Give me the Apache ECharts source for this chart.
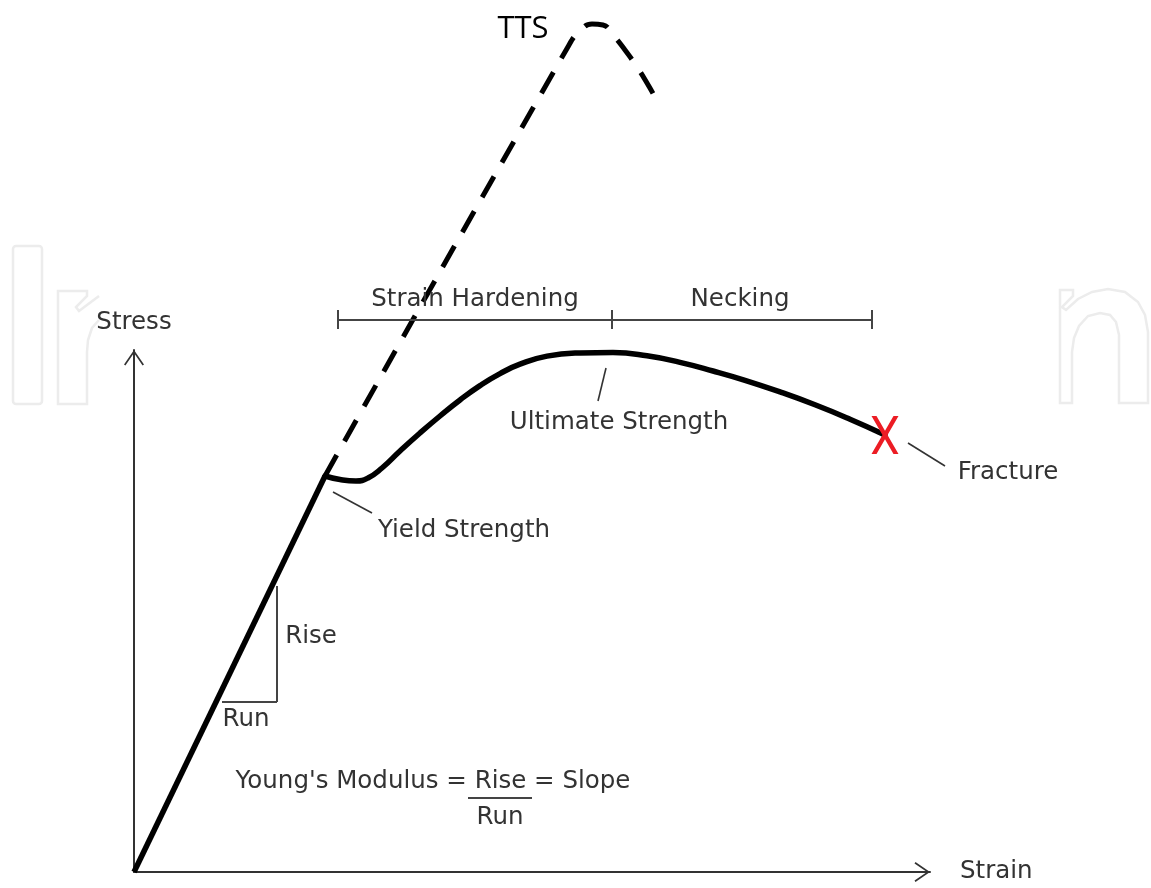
<!DOCTYPE html>
<html><head><meta charset="utf-8">
<script src="https://cdn.jsdelivr.net/npm/echarts@6/dist/echarts.min.js"></script>
<style>html,body{margin:0;padding:0;background:#fff}#c{width:1151px;height:888px}</style>
</head><body><div id="c"></div>
<script>
// ---- data (strain on x, stress on y, arbitrary units) ----
const elasticStrain = [0, 19.1];
const elasticStress = [0, 39.6];
const plasticStrain = [19.1, 20.6, 22.2, 23.4, 24.8, 26.6, 28.6, 30.6, 32.6, 34.6, 36.6, 38.6, 41.3, 44.6, 47.9, 51.3, 54.6, 57.9, 61.1, 64.6, 68.1, 71.6, 75.1];
const plasticStress = [39.6, 39.25, 39.1, 39.4, 40.4, 42.1, 43.9, 45.6, 47.2, 48.64, 49.84, 50.78, 51.59, 51.9, 51.94, 51.62, 50.96, 50.1, 49.17, 48.01, 46.72, 45.28, 43.71];
const ttsStrain = [19.1, 43.5, 44.6, 45.8, 46.9, 47.9, 49.1, 50.3, 51.3, 52.1];
const ttsStress = [39.6, 82.7, 84.1, 84.8, 84.7, 83.7, 82.2, 80.5, 78.9, 77.5];
const fractureStrain = [75.1];
const fractureStress = [43.7];

const labelText = ['Strain Hardening', 'Necking', 'Ultimate Strength', 'Yield Strength', 'Fracture', 'Rise', 'Run', "Young's Modulus = Rise = Slope", 'Run'];
const labelStrain = [34.1, 60.6, 48.5, 33.0, 87.4, 17.7, 11.2, 29.9, 36.6];
const labelStress = [57.2, 57.2, 44.95, 34.1, 39.9, 23.5, 15.2, 9.0, 5.4];
const ttsLabel = ['TTS'];
const ttsLabelStrain = [38.9];
const ttsLabelStress = [84.3];

// leader lines: [x1, y1, x2, y2]
const leaderLines = [[47.2, 50.4, 46.4, 47.1], [19.9, 38.0, 23.8, 35.9], [77.4, 42.9, 81.1, 40.6]];
// rise/run triangle and fraction bar
const triangleLines = [[14.3, 28.6, 14.3, 17.0], [8.8, 17.0, 14.3, 17.0], [33.4, 7.4, 39.8, 7.4]];
// region bracket
const bracketStrain = [20.4, 47.8, 73.8];
const bracketStress = 55.2;
const bracketTick = [54.3, 56.2];

const zip = (a, b) => a.map((v, i) => [v, b[i]]);
const FONT = 'DejaVu Sans';
const arrow = 'path://M10 0 L20 14.5 L18.6 15.5 L10 3 L1.4 15.5 L0 14.5 Z';

const segs = [];
const seg = (l, w, c) => ({coords: [[l[0], l[1]], [l[2], l[3]]], lineStyle: {width: w, color: c, type: 'solid', opacity: 1}});
leaderLines.forEach(l => segs.push(seg(l, 1.6, '#333')));
triangleLines.forEach(l => segs.push(seg(l, 2, '#444')));
segs.push(seg([bracketStrain[0], bracketStress, bracketStrain[2], bracketStress], 2, '#444'));
bracketStrain.forEach(x => segs.push(seg([x, bracketTick[0], x, bracketTick[1]], 2, '#444')));

// faint background watermark outlines (decoration only)
const wmStyle = {fill: null, stroke: '#ececec', lineWidth: 2.5};
const chart = echarts.init(document.getElementById('c'));
chart.setOption({
  animation: false,
  backgroundColor: '#fff',
  graphic: [
    {type: 'rect', silent: true, z: -10, shape: {x: 13, y: 246, width: 29, height: 158, r: 3}, style: wmStyle},
    {type: 'polyline', silent: true, z: -10, shape: {points: [[99,296],[79,311],[76,307],[87,296],[87,291],[58,291],[58,404],[87,404],[87,352],[88,340],[92,328],[99,320]]}, style: wmStyle},
    {type: 'polygon', silent: true, z: -10, shape: {points: [[1060,403],[1060,290],[1073,290],[1073,296],[1062,307],[1066,310],[1078,299],[1092,292],[1108,289],[1125,292],[1138,302],[1145,315],[1148,332],[1148,403],[1119,403],[1119,335],[1116,322],[1110,315],[1100,313],[1088,316],[1079,326],[1074,338],[1072,352],[1072,403]]}, style: wmStyle}
  ],
  grid: {left: 134, right: 221, top: 350, bottom: 16},
  xAxis: {
    type: 'value', min: 0, max: 79.6,
    name: 'Strain', nameLocation: 'end', nameGap: 30,
    nameTextStyle: {fontSize: 24.5, color: '#333', fontFamily: FONT, padding: [7, 0, 0, 0]},
    axisLine: {show: true, onZero: false, lineStyle: {color: '#333', width: 2},
      symbol: ['none', arrow], symbolSize: [20, 15.5], symbolOffset: [0, -7.75]},
    axisTick: {show: false}, axisLabel: {show: false}, splitLine: {show: false}
  },
  yAxis: {
    type: 'value', min: 0, max: 52.2,
    name: 'Stress', nameLocation: 'end', nameGap: 15,
    nameTextStyle: {fontSize: 24.5, color: '#333', fontFamily: FONT},
    axisLine: {show: true, onZero: false, lineStyle: {color: '#333', width: 2},
      symbol: ['none', arrow], symbolSize: [20, 15.5], symbolOffset: [0, -7.75]},
    axisTick: {show: false}, axisLabel: {show: false}, splitLine: {show: false}
  },
  series: [
    {type: 'line', name: 'TTS', data: zip(ttsStrain, ttsStress), smooth: 0.5, showSymbol: false, clip: false,
      lineStyle: {color: '#000', width: 5, type: [24, 16]}, z: 2},
    {type: 'line', name: 'elastic', data: zip(elasticStrain, elasticStress), showSymbol: false, clip: false,
      lineStyle: {color: '#000', width: 5.5}, z: 3},
    {type: 'line', name: 'plastic', data: zip(plasticStrain, plasticStress), smooth: 0.5, showSymbol: false, clip: false,
      lineStyle: {color: '#000', width: 5.5, cap: 'round', join: 'round'}, z: 3},
    {type: 'lines', name: 'annotations', coordinateSystem: 'cartesian2d', clip: false, silent: true,
      data: segs, lineStyle: {type: 'solid', opacity: 1, curveness: 0}, z: 4},
    {type: 'scatter', name: 'fracture', data: zip(fractureStrain, fractureStress), clip: false,
      symbol: 'path://M0,0 L5,0 L13.5,14.3 L22,0 L27,0 L16,18.5 L27,37 L22,37 L13.5,22.7 L5,37 L0,37 L11,18.5 Z',
      symbolSize: [27, 38], itemStyle: {color: '#ec1c24', opacity: 1}, z: 5},
    {type: 'scatter', name: 'labels', clip: false, symbolSize: 1, itemStyle: {color: 'rgba(0,0,0,0)', opacity: 1},
      data: labelText.map((t, i) => ({name: t, value: [labelStrain[i], labelStress[i]]})),
      label: {show: true, position: 'inside', formatter: '{b}', fontSize: 24.5, color: '#333', fontFamily: FONT}, z: 4},
    {type: 'scatter', name: 'ttsLabel', clip: false, symbolSize: 1, itemStyle: {color: 'rgba(0,0,0,0)', opacity: 1},
      data: ttsLabel.map((t, i) => ({name: t, value: [ttsLabelStrain[i], ttsLabelStress[i]]})),
      label: {show: true, position: 'inside', formatter: '{b}', fontSize: 31, color: '#000', fontFamily: 'Open Sans'}, z: 4}
  ]
});
</script></body></html>
